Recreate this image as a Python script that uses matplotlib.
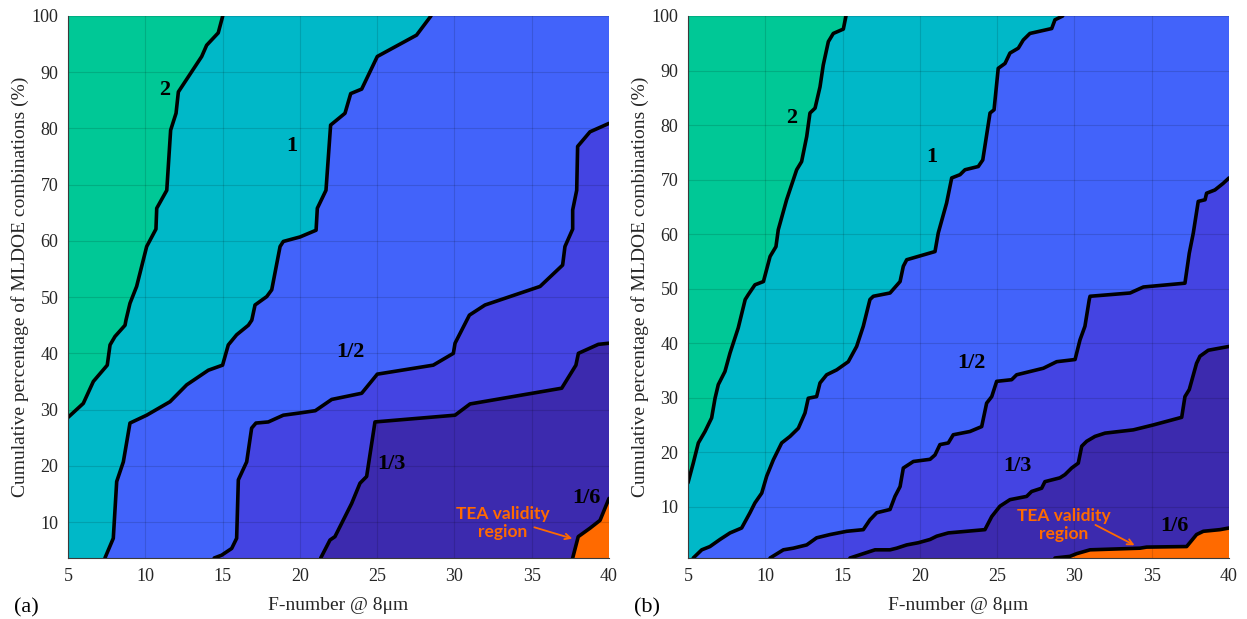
import matplotlib
matplotlib.use("Agg")
import matplotlib.pyplot as plt
from matplotlib.patches import Polygon

# ---------------- data: contour boundaries (x = F-number, y = cumulative %) ----------------
# Panel (a)
a_b2_x = [15.01, 14.72, 13.97, 13.65, 12.14, 11.99, 11.64, 11.39, 10.74, 10.69, 10.09, 9.44, 9.01, 8.75, 8.69, 8.04, 7.72, 7.54, 6.64, 5.99, 5.0]
a_b2_y = [100, 97.0, 94.8, 92.8, 86.5, 82.7, 79.7, 69.0, 65.8, 62.1, 59.0, 51.9, 48.9, 45.9, 45.0, 43.0, 41.5, 37.9, 35.0, 31.1, 28.6]

a_b1_x = [28.48, 27.55, 25.01, 24.0, 23.29, 22.92, 21.99, 21.69, 21.13, 21.05, 20.01, 18.93, 18.72, 18.18, 17.86, 17.10, 16.89, 16.67, 15.91, 15.37, 15.0, 14.08, 12.68, 11.60, 10.09, 9.01, 8.58, 8.15, 7.93, 7.39]
a_b1_y = [100, 96.6, 92.8, 87.0, 86.2, 82.7, 80.6, 69.0, 65.8, 61.9, 60.7, 59.9, 59.0, 51.3, 50.1, 48.6, 45.9, 45.0, 43.3, 41.5, 37.9, 37.0, 34.4, 31.4, 29.0, 27.6, 20.7, 17.2, 7.1, 3.6]

a_bh_x = [40.0, 38.77, 37.97, 37.91, 37.65, 37.65, 37.15, 37.0, 35.54, 31.98, 30.97, 30.04, 29.93, 28.63, 25.01, 24.0, 22.06, 21.0, 20.01, 18.93, 17.96, 17.16, 16.88, 16.56, 16.02, 15.91, 15.59, 14.94, 14.46]
a_bh_y = [80.9, 79.4, 76.8, 69.0, 65.5, 62.1, 59.0, 55.7, 51.9, 48.6, 46.8, 41.8, 40.0, 37.9, 36.3, 32.9, 31.8, 29.8, 29.4, 29.0, 27.8, 27.6, 26.7, 20.7, 17.5, 7.1, 5.3, 4.1, 3.6]

a_bt_x = [40.0, 39.31, 38.02, 37.86, 36.94, 31.01, 30.04, 24.86, 24.32, 23.89, 23.35, 22.27, 21.95, 21.35]
a_bt_y = [41.8, 41.6, 40.0, 37.9, 33.8, 31.0, 29.0, 27.8, 18.1, 16.9, 13.3, 7.4, 6.8, 3.6]

a_b6_x = [40.0, 39.42, 38.77, 38.01, 37.65]
a_b6_y = [14.2, 10.3, 8.9, 7.4, 3.6]

# Panel (b)
b_b2_x = [15.22, 15.05, 14.40, 14.08, 13.75, 13.54, 13.22, 12.89, 12.68, 12.35, 12.03, 11.77, 11.38, 10.84, 10.69, 10.31, 9.88, 9.33, 8.90, 8.70, 8.25, 7.72, 7.39, 6.96, 6.75, 6.53, 6.10, 5.67, 5.34, 5.0]
b_b2_y = [100, 97.6, 96.8, 95.3, 91.0, 87.0, 83.1, 82.2, 77.9, 73.3, 71.8, 69.6, 66.3, 60.8, 57.7, 55.9, 51.3, 50.7, 48.9, 48.0, 42.8, 38.2, 34.8, 32.4, 29.9, 26.3, 23.8, 21.7, 18.0, 14.4]

b_b1_x = [29.24, 28.74, 28.53, 27.12, 26.69, 26.37, 25.83, 25.51, 25.07, 24.80, 24.54, 24.07, 23.78, 22.92, 22.60, 22.06, 21.73, 21.19, 20.98, 19.15, 18.93, 18.72, 18.07, 16.99, 16.77, 16.34, 15.91, 15.37, 14.62, 13.97, 13.54, 13.32, 12.78, 12.57, 12.14, 11.60, 11.06, 10.52, 10.09, 9.77, 9.33, 9.01, 8.47, 7.72, 7.07, 6.42, 5.89, 5.34]
b_b1_y = [100, 99.3, 97.7, 96.8, 95.6, 94.1, 93.2, 91.3, 90.4, 82.8, 82.2, 73.6, 72.4, 71.8, 70.9, 70.3, 65.7, 60.2, 56.8, 55.3, 54.1, 51.3, 49.2, 48.6, 48.0, 43.1, 39.4, 36.6, 35.1, 34.2, 32.7, 30.2, 29.9, 27.2, 24.4, 22.9, 21.7, 18.6, 15.6, 12.5, 10.7, 8.9, 6.1, 5.2, 4.0, 2.7, 2.1, 0.6]

b_bh_x = [40.0, 39.62, 39.09, 38.55, 38.45, 38.01, 37.69, 37.43, 37.15, 34.46, 33.60, 31.01, 30.96, 30.68, 30.36, 30.04, 28.85, 27.99, 26.26, 25.94, 24.97, 24.65, 24.32, 24.0, 23.24, 22.16, 21.84, 21.30, 20.98, 20.66, 19.58, 18.93, 18.72, 18.39, 18.07, 17.21, 16.77, 16.34, 15.27, 14.19, 13.32, 12.68, 11.81, 11.17, 10.31]
b_bh_y = [70.3, 69.3, 68.1, 67.5, 66.3, 66.0, 60.2, 56.5, 51.0, 50.3, 49.2, 48.6, 48.0, 43.1, 40.6, 37.0, 36.6, 35.4, 34.2, 33.3, 33.0, 30.2, 29.0, 24.7, 23.8, 23.2, 21.7, 21.4, 19.5, 18.7, 18.3, 17.1, 13.7, 11.9, 9.5, 8.9, 7.6, 5.8, 5.5, 4.9, 4.3, 3.0, 2.4, 2.1, 0.6]

b_bt_x = [40.0, 38.66, 38.12, 37.90, 37.43, 37.15, 36.94, 35.10, 33.81, 31.98, 31.33, 30.79, 30.47, 30.25, 29.82, 29.39, 29.06, 28.09, 27.88, 27.23, 26.91, 25.83, 25.18, 24.65, 24.21, 21.84, 21.09, 20.66, 19.90, 19.15, 18.50, 18.07, 17.10, 16.45, 15.48]
b_bt_y = [39.4, 38.7, 37.6, 36.3, 31.5, 30.2, 26.4, 25.0, 24.1, 23.5, 22.9, 22.0, 21.1, 18.0, 17.1, 15.9, 15.3, 14.6, 13.4, 12.8, 11.9, 11.3, 10.1, 8.2, 5.8, 5.2, 4.6, 4.0, 3.4, 3.0, 2.4, 2.1, 2.1, 1.5, 0.6]

b_b6_x = [40.0, 39.42, 38.34, 37.90, 37.26, 34.67, 34.24, 31.01, 30.15, 29.71, 28.74]
b_b6_y = [6.1, 5.8, 5.5, 4.9, 2.7, 2.6, 2.4, 2.1, 1.4, 0.9, 0.6]

level_labels = ["2", "1", "1/2", "1/3", "1/6"]
a_label_x = [11.28, 19.47, 23.24, 25.93, 38.55]
a_label_y = [86.8, 76.8, 40.3, 20.4, 14.2]
b_label_x = [11.71, 20.77, 23.35, 26.3, 36.5]
b_label_y = [81.3, 74.2, 36.3, 17.4, 6.4]

x_ticks = [5, 10, 15, 20, 25, 30, 35, 40]
y_ticks = [10, 20, 30, 40, 50, 60, 70, 80, 90, 100]
a_ymin, b_ymin = 3.6, 0.6

# colours (upper-left region of each boundary), plus bottom-right orange
region_colors = ["#00C896", "#00B8C8", "#4263FA", "#4444E2", "#3C2AAE"]
orange = "#FF6A00"

# ---------------------------------------------------------------------------
fig = plt.figure(figsize=(12.47, 6.19), dpi=100)
ax_a = fig.add_axes([68/1247, 1-558/619, 541/1247, 542/619])
ax_b = fig.add_axes([688/1247, 1-558/619, 541/1247, 542/619])

serif = ["Liberation Serif", "DejaVu Serif"]


def corner_poly(xs, ys, xmin, xmax, ymin, ymax):
    pts = list(zip(xs, ys))
    xa, ya = pts[0]
    xb, yb = pts[-1]
    tol = 0.05
    # end B is on bottom or left edge
    if abs(yb - ymin) < tol and abs(xb - xmin) > tol:
        pts.append((xmin, ymin))
    pts.append((xmin, ymax))
    # start A is on right edge
    if abs(xa - xmax) < tol and abs(ya - ymax) > tol:
        pts.append((xmax, ymax))
    return pts


def draw_panel(ax, bounds, ymin, lab_x, lab_y, tea_xy, arrow_from, arrow_to, tag):
    xmin, xmax, ymax = 5, 40, 100
    ax.set_xlim(xmin, xmax)
    ax.set_ylim(ymin, ymax)
    ax.add_patch(Polygon([(xmin, ymin), (xmax, ymin), (xmax, ymax), (xmin, ymax)],
                         closed=True, facecolor=orange, edgecolor="none", zorder=1))
    for (bx, by), col in zip(reversed(bounds), reversed(region_colors)):
        poly = corner_poly(bx, by, xmin, xmax, ymin, ymax)
        ax.add_patch(Polygon(poly, closed=True, facecolor=col, edgecolor="none", zorder=1))
    for bx, by in bounds:
        ax.plot(bx, by, color="black", lw=2.6, solid_capstyle="round", zorder=3, clip_on=True)
    for t, lx, ly in zip(level_labels, lab_x, lab_y):
        ax.text(lx, ly, t, fontsize=16, fontweight="bold", family=serif,
                ha="center", va="center", zorder=4)
    ax.text(tea_xy[0], tea_xy[1], "TEA validity\nregion", color="#FF6A00", fontsize=12.5,
            fontweight="bold", family=["Lato", "DejaVu Sans"], ha="center", va="center",
            linespacing=1.15, zorder=4)
    ax.annotate("", xy=arrow_to, xytext=arrow_from,
                arrowprops=dict(arrowstyle="->", color="#FF6A00", lw=1.3), zorder=4)
    ax.set_xticks(x_ticks)
    ax.set_yticks(y_ticks)
    ax.grid(True, color="black", alpha=0.13, lw=0.8)
    ax.set_axisbelow(False)
    for s in ["top", "right"]:
        ax.spines[s].set_visible(False)
    for s in ["left", "bottom"]:
        ax.spines[s].set_color("#3a3a3a")
        ax.spines[s].set_linewidth(0.8)
        ax.spines[s].set_zorder(5)
    ax.tick_params(length=0, labelsize=13, pad=7, colors="#262626")
    for lbl in ax.get_xticklabels() + ax.get_yticklabels():
        lbl.set_family(serif)
    ax.set_xlabel("F-number @ 8μm", family=serif, fontsize=14, color="#262626", labelpad=8.5)
    ax.set_ylabel("Cumulative percentage of MLDOE combinations (%)", family=serif,
                  fontsize=14, color="#262626", labelpad=1.7)
    ax.text(-0.1, -0.092, tag, transform=ax.transAxes, family=serif, fontsize=16,
            ha="left", va="center")


bounds_a = [(a_b2_x, a_b2_y), (a_b1_x, a_b1_y), (a_bh_x, a_bh_y), (a_bt_x, a_bt_y), (a_b6_x, a_b6_y)]
bounds_b = [(b_b2_x, b_b2_y), (b_b1_x, b_b1_y), (b_bh_x, b_bh_y), (b_bt_x, b_bt_y), (b_b6_x, b_b6_y)]

draw_panel(ax_a, bounds_a, a_ymin, a_label_x, a_label_y, (33.1, 9.9), (35.0, 9.2), (37.8, 6.9), "(a)")
draw_panel(ax_b, bounds_b, b_ymin, b_label_x, b_label_y, (29.3, 6.7), (31.2, 6.9), (34.05, 2.7), "(b)")

fig.savefig("out.png", dpi=100)
